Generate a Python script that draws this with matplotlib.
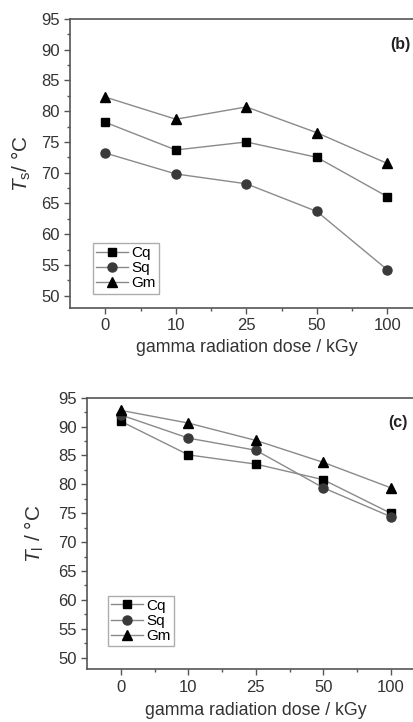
import matplotlib
matplotlib.use("Agg")
import matplotlib.pyplot as plt
from matplotlib.ticker import MultipleLocator, FixedLocator

plt.rcParams["font.family"] = ["Liberation Sans", "DejaVu Sans"]
plt.rcParams["mathtext.fontset"] = "custom"
plt.rcParams["mathtext.it"] = "Liberation Sans:italic"
plt.rcParams["mathtext.rm"] = "Liberation Sans"

doses = ["0", "10", "25", "50", "100"]
series = ["Cq", "Sq", "Gm"]

# panel (b): Ts
ts_cq = [78.2, 73.7, 75.0, 72.5, 66.1]
ts_sq = [73.2, 69.8, 68.2, 63.7, 54.2]
ts_gm = [82.3, 78.7, 80.7, 76.5, 71.5]

# panel (c): Tl
tl_cq = [90.9, 85.1, 83.5, 80.8, 75.0]
tl_sq = [92.0, 88.0, 85.9, 79.4, 74.4]
tl_gm = [92.8, 90.6, 87.6, 83.8, 79.4]

markers = {"Cq": ("s", "black", 5.5), "Sq": ("o", "#3a3a3a", 6.5), "Gm": ("^", "black", 6.5)}
line_col = "#8a8a8a"
spine_col = "#555555"

fig = plt.figure(figsize=(4.13, 7.22), dpi=100)
ax_b = fig.add_axes([0.1695, 0.5734, 0.854, 0.4003])
ax_c = fig.add_axes([0.2114, 0.0730, 0.8166, 0.3762])


def draw_panel(ax, data, ylabel, tag, tag_x, tag_y, xpad, ypad, leg_anchor):
    x = list(range(len(doses)))
    for name, vals in zip(series, data):
        m, c, ms = markers[name]
        ax.plot(x, vals, color=line_col, lw=1.0, marker=m, markersize=ms,
                markerfacecolor=c, markeredgecolor=c, label=name)
    ax.set_xlim(-0.5, 4.5)
    ax.set_ylim(48, 95)
    ax.set_xticks(x)
    ax.set_xticklabels(doses)
    ax.xaxis.set_minor_locator(FixedLocator([0.5, 1.5, 2.5, 3.5]))
    ax.yaxis.set_major_locator(MultipleLocator(5))
    ax.yaxis.set_minor_locator(MultipleLocator(2.5))
    ax.set_yticks(range(50, 96, 5))
    ax.tick_params(which="both", direction="out", colors=spine_col,
                   labelcolor="#333333", labelsize=12, width=1.0)
    ax.tick_params(which="major", length=4)
    ax.tick_params(which="minor", length=2.5)
    for s in ax.spines.values():
        s.set_color(spine_col)
        s.set_linewidth(1.2)
    ax.set_xlabel("gamma radiation dose / kGy", fontsize=12.8, color="#333333", labelpad=xpad)
    ax.set_ylabel(ylabel, fontsize=15, color="#333333", labelpad=ypad)
    ax.text(tag_x, tag_y, tag, transform=ax.transAxes, fontsize=11.5,
            fontweight="bold", color="#222222", ha="right", va="center")
    leg = ax.legend(loc="lower left", bbox_to_anchor=leg_anchor, fontsize=11,
                    frameon=True, fancybox=False, borderpad=0.2, labelspacing=0.08,
                    handlelength=2.1, handletextpad=0.2, borderaxespad=0.0)
    leg.get_frame().set_edgecolor("#999999")
    leg.get_frame().set_linewidth(1.0)


draw_panel(ax_b, [ts_cq, ts_sq, ts_gm], r"$T_\mathrm{s}$/ °C", "(b)",
           0.965, 0.913, 4, 6, (0.065, 0.05))
draw_panel(ax_c, [tl_cq, tl_sq, tl_gm], r"$T_\mathrm{l}$ / °C", "(c)",
           0.951, 0.908, 5, 9, (0.062, 0.085))

fig.savefig("out.png", dpi=100)
